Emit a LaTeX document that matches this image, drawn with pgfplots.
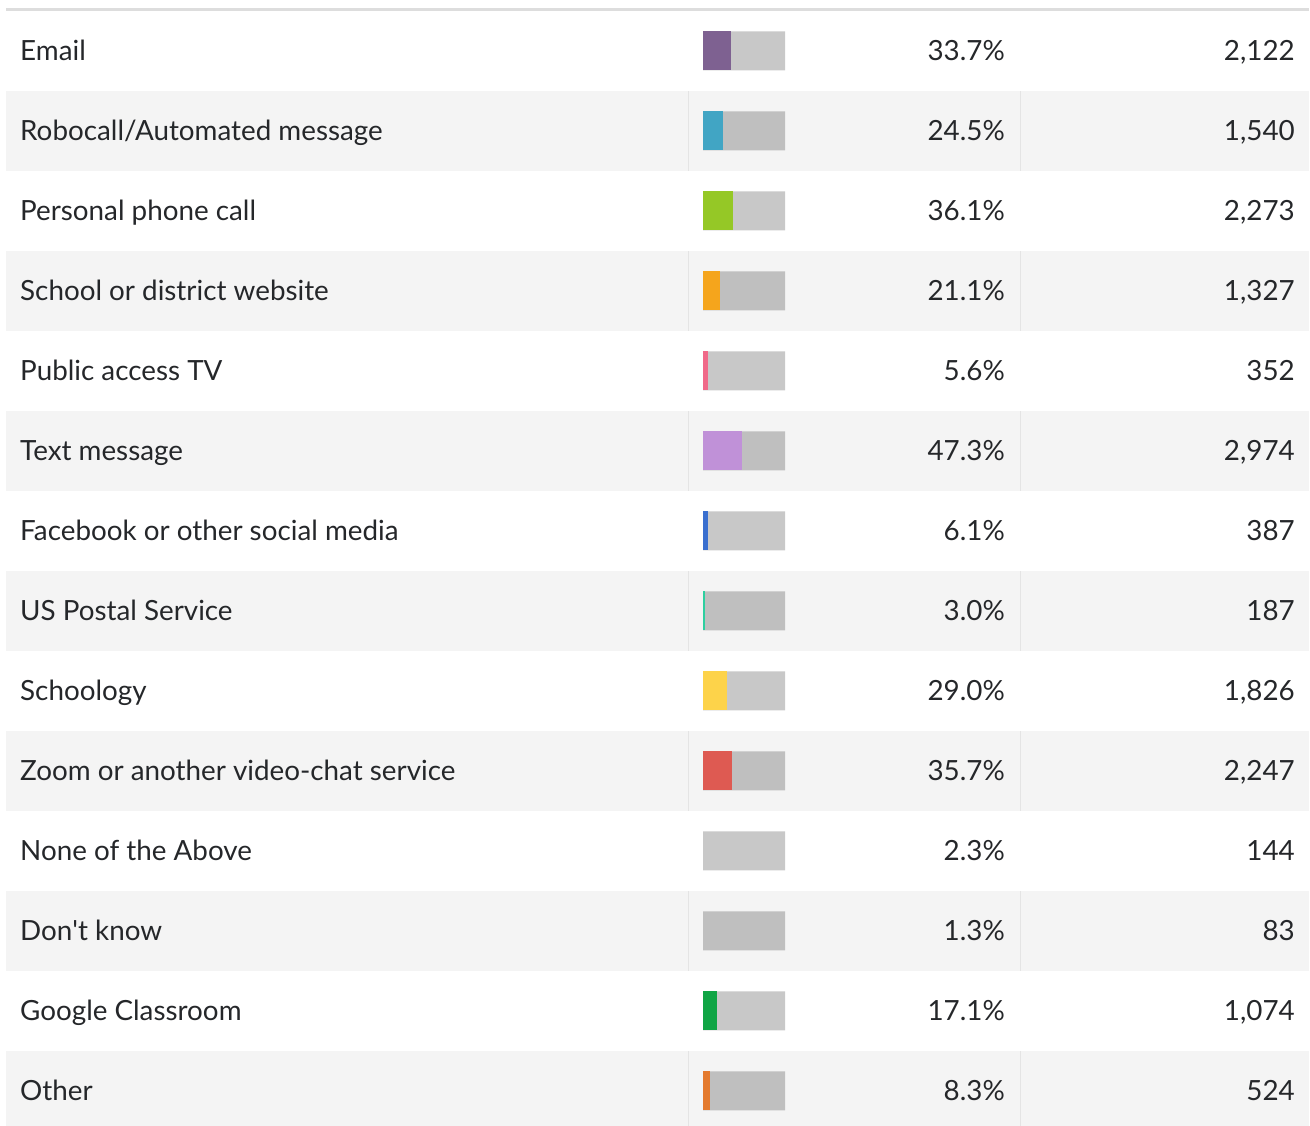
\documentclass[border=0pt]{standalone}
\usepackage{fontspec}
\setmainfont{Lato}
\usepackage{pgfplots}
\pgfplotsset{compat=1.18}

\definecolor{txt}{HTML}{25272A}
\definecolor{rowgray}{HTML}{F4F4F4}
\definecolor{sepgray}{HTML}{E4E4E4}
\definecolor{topgray}{HTML}{DDDDDD}
\definecolor{cEmail}{HTML}{7E6191}
\definecolor{cRobo}{HTML}{41A5C4}
\definecolor{cPhone}{HTML}{95C826}
\definecolor{cWeb}{HTML}{F5A51C}
\definecolor{cTV}{HTML}{F06989}
\definecolor{cText}{HTML}{C091D8}
\definecolor{cFb}{HTML}{3A6FCF}
\definecolor{cPost}{HTML}{2ECFA0}
\definecolor{cSchoology}{HTML}{FDD34A}
\definecolor{cZoom}{HTML}{DE5A52}
\definecolor{cGoogle}{HTML}{10A545}
\definecolor{cOther}{HTML}{E47A2E}

% 1pt = 1px of the reference; x in percent (0 at px 703, 100% = 82px)
\newcommand\rowfont{\fontsize{27.8}{32}\selectfont}
\newcommand\rowtext[4]{%
  \node[anchor=base west, inner sep=0pt, font=\rowfont, text=txt]
    at (axis cs:{(20-703)/0.82},{#1+0.125}) {#2};
  \node[anchor=base east, inner sep=0pt, font=\rowfont, text=txt]
    at (axis cs:{(1005-703)/0.82},{#1+0.125}) {#3};
  \node[anchor=base east, inner sep=0pt, font=\rowfont, text=txt]
    at (axis cs:{(1295-703)/0.82},{#1+0.125}) {#4};
}

\begin{document}
\begin{tikzpicture}
\begin{axis}[
    name=tbl,
    width=1310pt, height=1126pt, scale only axis,
    xmin=-857.317, xmax=740.244,
    ymin=0.3625, ymax=14.4375, y dir=reverse,
    hide axis, clip=true, set layers,
    mybar/.style={xbar, bar width=39pt, bar shift=0pt, draw=none},
]
\begin{pgfonlayer}{axis background}
\pgfplotsinvokeforeach{2,4,...,14}{
  \fill[rowgray] (axis cs:{(6-703)/0.82},{#1-0.5}) rectangle (axis cs:{(1309-703)/0.82},{#1+0.5});
  \draw[sepgray, line width=1pt] (axis cs:{(688.5-703)/0.82},{#1-0.5}) -- (axis cs:{(688.5-703)/0.82},{#1+0.5});
  \draw[sepgray, line width=1pt] (axis cs:{(1020.5-703)/0.82},{#1-0.5}) -- (axis cs:{(1020.5-703)/0.82},{#1+0.5});
}
\fill[topgray] (axis cs:{(6-703)/0.82},{1+(8-51)/80}) rectangle (axis cs:{(1309-703)/0.82},{1+(11-51)/80});
\end{pgfonlayer}

% grey track (100%)
\addplot[mybar, fill=black, fill opacity=0.215] coordinates {
  (100,1) (100,2) (100,3) (100,4) (100,5) (100,6) (100,7)
  (100,8) (100,9) (100,10) (100,11) (100,12) (100,13) (100,14)};

% coloured shares
\addplot[mybar, fill=cEmail]     coordinates {(33.7,1)};
\addplot[mybar, fill=cRobo]      coordinates {(24.5,2)};
\addplot[mybar, fill=cPhone]     coordinates {(36.1,3)};
\addplot[mybar, fill=cWeb]       coordinates {(21.1,4)};
\addplot[mybar, fill=cTV]        coordinates {(5.6,5)};
\addplot[mybar, fill=cText]      coordinates {(47.3,6)};
\addplot[mybar, fill=cFb]        coordinates {(6.1,7)};
\addplot[mybar, fill=cPost]      coordinates {(3.0,8)};
\addplot[mybar, fill=cSchoology] coordinates {(29.0,9)};
\addplot[mybar, fill=cZoom]      coordinates {(35.7,10)};
\addplot[mybar, fill=black, fill opacity=0] coordinates {(2.3,11)};
\addplot[mybar, fill=black, fill opacity=0] coordinates {(1.3,12)};
\addplot[mybar, fill=cGoogle]    coordinates {(17.1,13)};
\addplot[mybar, fill=cOther]     coordinates {(8.3,14)};

\rowtext{1}{Email}{33.7\%}{2,122}
\rowtext{2}{Robocall/Automated message}{24.5\%}{1,540}
\rowtext{3}{Personal phone call}{36.1\%}{2,273}
\rowtext{4}{School or district website}{21.1\%}{1,327}
\rowtext{5}{Public access TV}{5.6\%}{352}
\rowtext{6}{Text message}{47.3\%}{2,974}
\rowtext{7}{Facebook or other social media}{6.1\%}{387}
\rowtext{8}{US Postal Service}{3.0\%}{187}
\rowtext{9}{Schoology}{29.0\%}{1,826}
\rowtext{10}{Zoom or another video-chat service}{35.7\%}{2,247}
\rowtext{11}{None of the Above}{2.3\%}{144}
\rowtext{12}{Don\textquotesingle t know}{1.3\%}{83}
\rowtext{13}{Google Classroom}{17.1\%}{1,074}
\rowtext{14}{Other}{8.3\%}{524}
\end{axis}
\useasboundingbox (tbl.south west) rectangle (tbl.north east);
\end{tikzpicture}
\end{document}
